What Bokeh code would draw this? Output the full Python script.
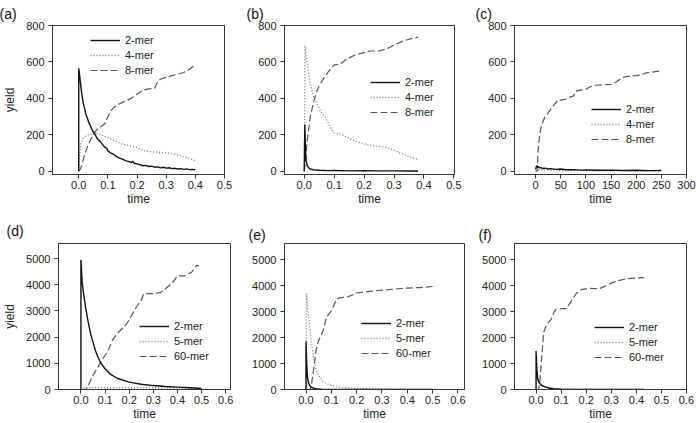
from bokeh.plotting import figure
from bokeh.layouts import column, row
from bokeh.models import FixedTicker, NumeralTickFormatter, Legend, LegendItem, Range1d
from bokeh.embed import file_html
from bokeh.resources import INLINE

# ---------------- data ----------------
# panel (a)
a_t_2mer = [0, 0, 0.002, 0.005, 0.008, 0.012, 0.016, 0.02, 0.025, 0.03, 0.035, 0.04, 0.045, 0.05, 0.055,
            0.06, 0.065, 0.07, 0.075, 0.08, 0.085, 0.09, 0.095, 0.1, 0.11, 0.12, 0.13, 0.14, 0.15, 0.16,
            0.17, 0.18, 0.185, 0.19, 0.2, 0.21, 0.22, 0.23, 0.24, 0.25, 0.26, 0.27, 0.28, 0.29, 0.3,
            0.31, 0.32, 0.33, 0.34, 0.35, 0.36, 0.37, 0.38, 0.39, 0.4]
a_y_2mer = [0, 565, 540, 500, 455, 410, 370, 345, 310, 290, 265, 250, 230, 215, 205,
            190, 175, 170, 160, 150, 140, 130, 128, 112, 100, 92, 80, 72, 66, 58,
            54, 48, 55, 44, 40, 36, 30, 32, 26, 28, 22, 24, 18, 22, 17,
            19, 14, 16, 12, 14, 10, 13, 9, 10, 8]
a_t_4mer = [0, 0.003, 0.006, 0.01, 0.015, 0.02, 0.03, 0.04, 0.05, 0.06, 0.07, 0.08, 0.09, 0.1, 0.12,
            0.14, 0.16, 0.18, 0.2, 0.22, 0.24, 0.26, 0.28, 0.3, 0.32, 0.34, 0.36, 0.38, 0.4]
a_y_4mer = [0, 80, 130, 160, 180, 190, 198, 202, 205, 207, 205, 200, 192, 185, 170,
            155, 145, 138, 130, 115, 108, 105, 104, 102, 97, 90, 80, 70, 58]
a_t_8mer = [0, 0.005, 0.01, 0.02, 0.03, 0.04, 0.05, 0.06, 0.07, 0.08, 0.09, 0.1, 0.11, 0.12, 0.13,
            0.14, 0.16, 0.18, 0.2, 0.22, 0.24, 0.26, 0.27, 0.28, 0.3, 0.32, 0.34, 0.36, 0.38, 0.4]
a_y_8mer = [0, 10, 30, 90, 135, 170, 200, 225, 240, 250, 262, 300, 330, 350, 362,
            370, 385, 400, 422, 445, 452, 455, 490, 505, 516, 525, 533, 542, 560, 585]

# panel (b)
b_t_2mer = [0, 0.002, 0.004, 0.006, 0.01, 0.015, 0.02, 0.03, 0.05, 0.08, 0.1, 0.15, 0.2, 0.25, 0.3, 0.35, 0.38]
b_y_2mer = [0, 256, 120, 60, 30, 18, 12, 8, 5, 3, 4, 2, 3, 2, 2, 1, 1]
b_t_4mer = [0, 0.003, 0.005, 0.01, 0.02, 0.03, 0.04, 0.05, 0.06, 0.07, 0.08, 0.09, 0.1, 0.11, 0.12,
            0.14, 0.16, 0.18, 0.2, 0.22, 0.24, 0.26, 0.28, 0.3, 0.32, 0.34, 0.36, 0.38]
b_y_4mer = [0, 690, 650, 590, 480, 415, 375, 342, 315, 296, 265, 233, 210, 207, 205,
            190, 172, 160, 151, 143, 137, 135, 128, 115, 100, 87, 75, 64]
b_t_8mer = [0, 0.005, 0.01, 0.02, 0.03, 0.04, 0.05, 0.06, 0.07, 0.08, 0.09, 0.1, 0.12, 0.14, 0.17,
            0.2, 0.22, 0.25, 0.28, 0.3, 0.33, 0.36, 0.38]
b_y_8mer = [0, 80, 170, 300, 370, 430, 470, 497, 524, 545, 565, 584, 587, 615, 638,
            651, 660, 660, 675, 693, 715, 729, 736]

# panel (c)
c_t_2mer = [0, 2, 4, 6, 8, 10, 15, 20, 25, 30, 40, 50, 60, 75, 90, 100, 125, 150, 175, 200, 225, 250]
c_y_2mer = [10, 30, 22, 25, 18, 20, 15, 17, 12, 14, 10, 12, 8, 9, 6, 7, 5, 6, 4, 5, 3, 4]
c_t_4mer = [0, 5, 20, 50, 100, 150, 200, 250]
c_y_4mer = [0, 8, 6, 4, 3, 2, 2, 1]
c_t_8mer = [0, 3, 5, 8, 12, 18, 25, 30, 35, 40, 45, 50, 60, 70, 75, 80, 90, 100, 110, 120,
            135, 150, 160, 165, 175, 180, 200, 210, 220, 235, 250]
c_y_8mer = [0, 0, 120, 200, 255, 295, 320, 340, 360, 375, 392, 390, 395, 408, 412, 440, 445, 450, 465, 472,
            475, 476, 490, 500, 515, 520, 525, 530, 540, 545, 552]

# panel (d)
d_t_2mer = [0, 0, 0.005, 0.01, 0.02, 0.03, 0.04, 0.05, 0.06, 0.07, 0.08, 0.1, 0.12, 0.15, 0.2,
            0.25, 0.3, 0.35, 0.4, 0.45, 0.5]
d_y_2mer = [0, 4950, 4100, 3720, 3090, 2580, 2130, 1810, 1490, 1250, 1050, 790, 600, 430, 280,
            200, 150, 115, 90, 65, 40]
d_t_5mer = [0, 0.005, 0.02, 0.05, 0.1, 0.2, 0.3, 0.4, 0.5]
d_y_5mer = [0, 60, 70, 70, 70, 70, 70, 60, 30]
d_t_60mer = [0, 0.02, 0.03, 0.05, 0.07, 0.09, 0.11, 0.13, 0.15, 0.17, 0.19, 0.21, 0.23, 0.25, 0.26,
             0.3, 0.33, 0.35, 0.38, 0.4, 0.43, 0.46, 0.48, 0.49]
d_y_60mer = [0, 0, 150, 535, 855, 1170, 1430, 1875, 2130, 2320, 2510, 2830, 3150, 3400, 3660,
             3660, 3700, 3850, 4080, 4340, 4340, 4490, 4740, 4720]

# panel (e)
e_t_2mer = [0, 0, 0.003, 0.006, 0.01, 0.015, 0.02, 0.03, 0.04, 0.06, 0.1, 0.2, 0.3, 0.4, 0.5]
e_y_2mer = [0, 1850, 900, 450, 250, 150, 90, 50, 30, 15, 5, 2, 1, 0, 0]
e_t_5mer = [0, 0.002, 0.005, 0.01, 0.02, 0.03, 0.04, 0.05, 0.07, 0.1, 0.15, 0.2, 0.3, 0.4, 0.5]
e_y_5mer = [0, 3700, 3350, 2780, 1900, 1215, 780, 525, 275, 150, 75, 40, 15, 8, 5]
e_t_60mer = [0, 0.015, 0.02, 0.03, 0.04, 0.05, 0.06, 0.07, 0.08, 0.1, 0.12, 0.13, 0.16, 0.18, 0.2,
             0.25, 0.3, 0.35, 0.4, 0.45, 0.5]
e_y_60mer = [0, 0, 90, 780, 1530, 1900, 2090, 2340, 2780, 3030, 3470, 3530, 3560, 3630, 3720,
             3780, 3830, 3870, 3910, 3930, 3970]

# panel (f)
f_t_2mer = [0, 0, 0.003, 0.006, 0.01, 0.02, 0.03, 0.05, 0.07, 0.1, 0.2, 0.3, 0.43]
f_y_2mer = [0, 1480, 800, 450, 300, 180, 120, 60, 30, 15, 5, 2, 0]
f_t_5mer = [0, 0.003, 0.01, 0.02, 0.04, 0.08, 0.2, 0.43]
f_y_5mer = [0, 550, 350, 200, 80, 30, 10, 0]
f_t_60mer = [0, 0.01, 0.015, 0.02, 0.03, 0.04, 0.05, 0.06, 0.07, 0.08, 0.1, 0.12, 0.14, 0.16, 0.18,
             0.2, 0.22, 0.25, 0.28, 0.3, 0.33, 0.36, 0.4, 0.43]
f_y_60mer = [0, 0, 300, 900, 2200, 2450, 2600, 2700, 2950, 3100, 3120, 3120, 3400, 3700, 3850,
             3880, 3900, 3880, 4000, 4100, 4200, 4270, 4300, 4310]

names_top = ["2-mer", "4-mer", "8-mer"]
names_bottom = ["2-mer", "5-mer", "60-mer"]
x_ticks_frac5 = [0, 0.1, 0.2, 0.3, 0.4, 0.5]
x_ticks_frac6 = [0, 0.1, 0.2, 0.3, 0.4, 0.5, 0.6]
x_ticks_c = [0, 50, 100, 150, 200, 250, 300]
y_ticks_top = [0, 200, 400, 600, 800]
y_ticks_bottom = [0, 1000, 2000, 3000, 4000, 5000]
x_title = "time"
y_title = "yield"

# ---------------- layout ----------------
FONT = "Liberation Sans"
COLS = [0, 242, 472, 696]
ROWS = [0, 210, 423]

STYLES = [
    dict(line_color="#111111", line_width=1.4),
    dict(line_color="#777777", line_width=1.3, line_dash="1 2"),
    dict(line_color="#555555", line_width=1.2, line_dash="7 3"),
]


def make_panel(tag, col, rw, frame, xr, yr, xticks, yticks, decimal, series, names,
               legend_at, title_at, ylabel):
    cx0, cx1 = COLS[col], COLS[col + 1]
    cy0, cy1 = ROWS[rw], ROWS[rw + 1]
    fl, fr, ft, fb = frame
    p = figure(width=cx1 - cx0, height=cy1 - cy0,
               x_range=Range1d(*xr), y_range=Range1d(*yr),
               output_backend="svg", toolbar_location=None,
               min_border_left=fl - cx0, min_border_right=cx1 - fr,
               min_border_top=ft - cy0, min_border_bottom=cy1 - fb)
    p.xgrid.visible = False
    p.ygrid.visible = False
    p.outline_line_color = "#333333"
    p.outline_line_width = 1
    p.outline_line_alpha = 1
    p.background_fill_color = "white"
    p.border_fill_color = "white"

    for ax in (p.xaxis[0], p.yaxis[0]):
        ax.axis_line_color = "#333333"
        ax.major_tick_line_color = "#333333"
        ax.major_tick_out = 4
        ax.major_tick_in = 0
        ax.minor_tick_line_color = None
        ax.major_label_text_font = FONT
        ax.major_label_text_font_size = "11px"
        ax.major_label_text_color = "#222222"
        ax.axis_label_text_font = FONT
        ax.axis_label_text_font_size = "12px"
        ax.axis_label_text_font_style = "normal"
        ax.axis_label_text_color = "#222222"

    p.xaxis.ticker = FixedTicker(ticks=xticks)
    if decimal:
        p.xaxis.formatter = NumeralTickFormatter(format="0.0")
    p.xaxis.major_label_standoff = 2
    p.xaxis.axis_label = x_title
    p.xaxis.axis_label_standoff = 0
    p.yaxis.ticker = FixedTicker(ticks=yticks)
    p.yaxis.major_label_standoff = 4
    if ylabel:
        p.yaxis.axis_label = y_title
        p.yaxis.axis_label_standoff = 6

    renderers = [None, None, None]
    for i in (2, 1, 0):
        t, y = series[i]
        renderers[i] = p.line(t, y, **STYLES[i])

    # legend (location = bottom-left corner of the legend box, from frame's bottom-left)
    gx = legend_at[0] - fl
    top = legend_at[1] - 7
    lh = 3 * 14 + 2 * 1
    gy = fb - (top + lh)
    legend = Legend(items=[LegendItem(label=n, renderers=[r]) for n, r in zip(names, renderers)],
                    location=(gx, gy), padding=0, margin=0, spacing=1,
                    glyph_width=30, glyph_height=14, label_height=14, label_standoff=5,
                    label_text_font=FONT, label_text_font_size="11px", label_text_color="#222222",
                    border_line_alpha=0, background_fill_alpha=0)
    p.add_layout(legend)

    # panel tag as the figure title, shifted left to the figure's edge
    room = ft - cy0
    stand = max(0, min(2 * (ft - 8.5 - title_at[1]), room - 17))
    p.title.text = tag
    p.title.align = "left"
    p.title.offset = title_at[0] - 2 - fl
    p.title.standoff = stand
    p.title.text_font = FONT
    p.title.text_font_size = "14px"
    p.title.text_font_style = "normal"
    p.title.text_color = "#111111"
    return p


pa = make_panel("(a)", 0, 0, (52, 224, 24, 174), (-0.09, 0.5), (-18, 800), x_ticks_frac5, y_ticks_top, True,
                [(a_t_2mer, a_y_2mer), (a_t_4mer, a_y_4mer), (a_t_8mer, a_y_8mer)], names_top,
                (90, 40), (1, 8), True)
pb = make_panel("(b)", 1, 0, (284, 454, 24, 174), (-0.066, 0.502), (-18, 800), x_ticks_frac5, y_ticks_top, True,
                [(b_t_2mer, b_y_2mer), (b_t_4mer, b_y_4mer), (b_t_8mer, b_y_8mer)], names_top,
                (370, 82), (248, 10), False)
pc = make_panel("(c)", 2, 0, (514, 686, 24, 174), (-42, 300), (-18, 800), x_ticks_c, y_ticks_top, False,
                [(c_t_2mer, c_y_2mer), (c_t_4mer, c_y_4mer), (c_t_8mer, c_y_8mer)], names_top,
                (591, 109), (477, 11), False)
pd_ = make_panel("(d)", 0, 1, (52, 230, 243, 389), (-0.093, 0.62), (0, 5575), x_ticks_frac6, y_ticks_bottom, True,
                 [(d_t_2mer, d_y_2mer), (d_t_5mer, d_y_5mer), (d_t_60mer, d_y_60mer)], names_bottom,
                 (133, 326), (2, 230), True)
pe = make_panel("(e)", 1, 1, (284, 464, 239, 389), (-0.085, 0.626), (0, 5628), x_ticks_frac6, y_ticks_bottom, True,
                [(e_t_2mer, e_y_2mer), (e_t_5mer, e_y_5mer), (e_t_60mer, e_y_60mer)], names_bottom,
                (361, 323), (250, 230), False)
pf = make_panel("(f)", 2, 1, (514, 686, 239, 389), (-0.086, 0.6), (0, 5628), x_ticks_frac6, y_ticks_bottom, True,
                [(f_t_2mer, f_y_2mer), (f_t_5mer, f_y_5mer), (f_t_60mer, f_y_60mer)], names_bottom,
                (594, 327), (480, 230), False)

layout = column(row(pa, pb, pc, spacing=0), row(pd_, pe, pf, spacing=0), spacing=0)

open("out.html", "w").write(file_html(layout, INLINE))
